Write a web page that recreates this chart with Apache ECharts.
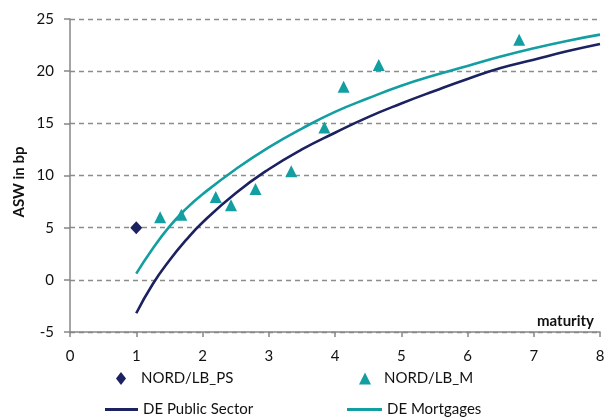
<!DOCTYPE html>
<html>
<head>
<meta charset="utf-8">
<script src="https://cdn.jsdelivr.net/npm/echarts@6/dist/echarts.min.js"></script>
<style>
html,body{margin:0;padding:0;background:#fff;}
#main{width:614px;height:417px;}
</style>
</head>
<body>
<div id="main"></div>
<script>
// ---- data ----
var xTicks = [0, 1, 2, 3, 4, 5, 6, 7, 8];
var yTicks = [-5, 0, 5, 10, 15, 20, 25];

var nordPS = [[1.0, 5.0]];

var nordM = [
  [1.36, 6.0], [1.68, 6.25], [2.20, 7.95], [2.43, 7.15], [2.80, 8.7],
  [3.34, 10.4], [3.84, 14.6], [4.13, 18.5], [4.66, 20.6], [6.78, 23.0]
];

var dePublicX = [1.0, 1.25, 1.5, 1.75, 2.0, 2.5, 3.0, 3.5, 4.0, 4.5, 5.0, 5.5, 6.0, 6.5, 7.0, 7.5, 8.0];
var dePublicY = [-3.2, -0.4, 1.85, 3.8, 5.5, 8.3, 10.6, 12.5, 14.1, 15.6, 16.9, 18.1, 19.25, 20.3, 21.1, 21.9, 22.6];

var deMortX = [1.0, 1.25, 1.5, 1.75, 2.0, 2.5, 3.0, 3.5, 4.0, 4.5, 5.0, 5.5, 6.0, 6.5, 7.0, 7.5, 8.0];
var deMortY = [0.6, 3.0, 5.1, 6.8, 8.2, 10.6, 12.7, 14.5, 16.1, 17.4, 18.6, 19.6, 20.5, 21.4, 22.2, 22.9, 23.5];

function zip(xs, ys) { return xs.map(function (x, i) { return [x, ys[i]]; }); }

var NAVY = '#1c2160';
var TEAL = '#139ea1';
var FONT = 'Lato';

var chart = echarts.init(document.getElementById('main'), null, {renderer: 'canvas'});

function legendItem(name, left, top, w, h, icon, pad) {
  return {
    data: [{name: name, icon: icon}],
    left: left, top: top, padding: 0,
    itemWidth: w, itemHeight: h,
    selectedMode: false,
    formatter: function (n) { return (pad ? '{p|}' : '') + n; },
    textStyle: {fontFamily: FONT, fontSize: 15, color: '#111',
      rich: {p: {width: pad || 0}}}
  };
}

chart.setOption({
  animation: false,
  textStyle: {fontFamily: FONT},
  grid: {left: 70, right: 14, top: 19, bottom: 85},
  xAxis: {
    type: 'value', min: xTicks[0], max: xTicks[xTicks.length - 1], interval: 1,
    axisLine: {show: true, onZero: false, lineStyle: {color: '#878787', width: 1.5}},
    axisTick: {show: true, length: 5, lineStyle: {color: '#878787', width: 1.5}},
    axisLabel: {fontFamily: FONT, fontSize: 15, color: '#111', margin: 17},
    splitLine: {show: false}
  },
  yAxis: {
    type: 'value', min: yTicks[0], max: yTicks[yTicks.length - 1], interval: 5,
    axisLine: {show: true, lineStyle: {color: '#878787', width: 1.5}},
    axisTick: {show: true, length: 6, lineStyle: {color: '#878787', width: 1.5}},
    axisLabel: {fontFamily: FONT, fontSize: 15, color: '#111', margin: 16},
    splitLine: {show: true, lineStyle: {color: '#8c8c8c', width: 1.3, type: [5, 4]}}
  },
  legend: [
    legendItem('NORD/LB_PS', 116, 371, 10, 13, 'diamond', 10),
    legendItem('NORD/LB_M', 359, 371, 12, 12, 'triangle', 8),
    legendItem('DE Public Sector', 105, 402, 33, 3, 'rect', 0),
    legendItem('DE Mortgages', 347, 402, 35, 3, 'rect', 0)
  ],
  graphic: [
    {type: 'text', x: 19, y: 182, rotation: Math.PI / 2,
     style: {text: 'ASW in bp', font: 'bold 15px ' + FONT, fill: '#111', align: 'center', verticalAlign: 'middle'}},
    {type: 'text', x: 594, y: 321,
     style: {text: 'maturity', font: 'bold 15px ' + FONT, fill: '#111', align: 'right', verticalAlign: 'middle'}}
  ],
  series: [
    {name: 'DE Public Sector', type: 'line', data: zip(dePublicX, dePublicY), smooth: 0.5,
     showSymbol: false, lineStyle: {color: NAVY, width: 2.6}, itemStyle: {color: NAVY}, z: 2},
    {name: 'DE Mortgages', type: 'line', data: zip(deMortX, deMortY), smooth: 0.5,
     showSymbol: false, lineStyle: {color: TEAL, width: 2.6}, itemStyle: {color: TEAL}, z: 2},
    {name: 'NORD/LB_PS', type: 'scatter', data: nordPS, symbol: 'diamond', symbolSize: [12, 13],
     itemStyle: {color: NAVY, opacity: 1}, z: 3},
    {name: 'NORD/LB_M', type: 'scatter', data: nordM, symbol: 'triangle', symbolSize: [12, 12],
     itemStyle: {color: TEAL, opacity: 1}, z: 3}
  ]
});
</script>
</body>
</html>
